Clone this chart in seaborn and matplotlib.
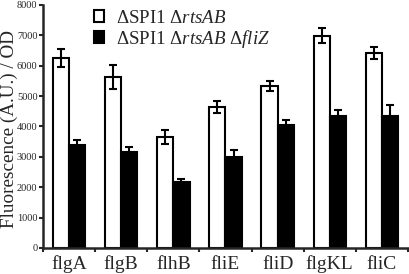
import numpy as np
import pandas as pd
import matplotlib
matplotlib.use("Agg")
import matplotlib.pyplot as plt
import seaborn as sns

# Values
genes = ["flgA", "flgB", "flhB", "fliE", "fliD", "flgKL", "fliC"]
strain_labels = ["ΔSPI1 Δ$\\mathit{rtsAB}$", "ΔSPI1 Δ$\\mathit{rtsAB}$ Δ$\\mathit{fliZ}$"]
wt_mean = [6260, 5630, 3650, 4630, 5330, 6990, 6410]
wt_err = [300, 390, 240, 200, 150, 250, 200]
fliz_mean = [3380, 3150, 2160, 2980, 4050, 4350, 4350]
fliz_err = [160, 180, 100, 230, 165, 190, 350]
yticks = [0, 1000, 2000, 3000, 4000, 5000, 6000, 7000, 8000]

sns.set_style("ticks")
plt.rcParams["font.family"] = ["Liberation Serif", "DejaVu Serif"]
plt.rcParams["mathtext.fontset"] = "custom"
plt.rcParams["mathtext.it"] = "Liberation Serif:italic"
plt.rcParams["mathtext.rm"] = "Liberation Serif"

df = pd.DataFrame({
    "gene": genes * 2,
    "strain": [strain_labels[0]] * len(genes) + [strain_labels[1]] * len(genes),
    "value": wt_mean + fliz_mean,
    "err": wt_err + fliz_err,
})

fig = plt.figure(figsize=(4.10, 2.74), dpi=100)
ax = fig.add_axes([0.105, 0.095, 0.89, 0.887])

sns.barplot(data=df, x="gene", y="value", hue="strain", order=genes,
            hue_order=strain_labels, palette=["white", "black"],
            edgecolor="black", linewidth=1.5, width=0.62, errorbar=None,
            saturation=1, ax=ax)

# error bars at the bar centres
for cont, means, errs in zip(ax.containers, [wt_mean, fliz_mean], [wt_err, fliz_err]):
    xs = [p.get_x() + p.get_width() / 2 for p in cont.patches]
    ax.errorbar(xs, means, yerr=errs, fmt="none", ecolor="black",
                elinewidth=1.5, capsize=3, capthick=1.5, zorder=5)

ax.set_xlim(-0.5, 6.5)
ax.set_ylim(0, 8000)
ax.set_yticks(yticks)
ax.set_yticklabels([str(t) for t in yticks], fontsize=7.5)
ax.set_xticks(range(len(genes)))
ax.set_xticklabels(genes, fontsize=14)
ax.set_xticks(np.arange(-0.5, 7, 1), minor=True)
ax.tick_params(axis="x", which="major", length=0, pad=5.5)
ax.tick_params(axis="x", which="minor", length=3, width=1.5, direction="out")
ax.tick_params(axis="y", length=3, width=1.5, direction="out", pad=1)
ax.set_xlabel("")
ax.set_ylabel("Fluorescence (A.U.) / OD", fontsize=13.8)
ax.yaxis.set_label_coords(-0.068, 0.49)
sns.despine(ax=ax)
for s in ["left", "bottom"]:
    ax.spines[s].set_linewidth(1.8)

ax.legend(loc="upper left", bbox_to_anchor=(0.103, 1.035), frameon=False,
          fontsize=13.6, handlelength=0.55, handleheight=0.55,
          handletextpad=0.6, labelspacing=0.05, borderpad=0.2)

fig.savefig("out.png", dpi=100)
